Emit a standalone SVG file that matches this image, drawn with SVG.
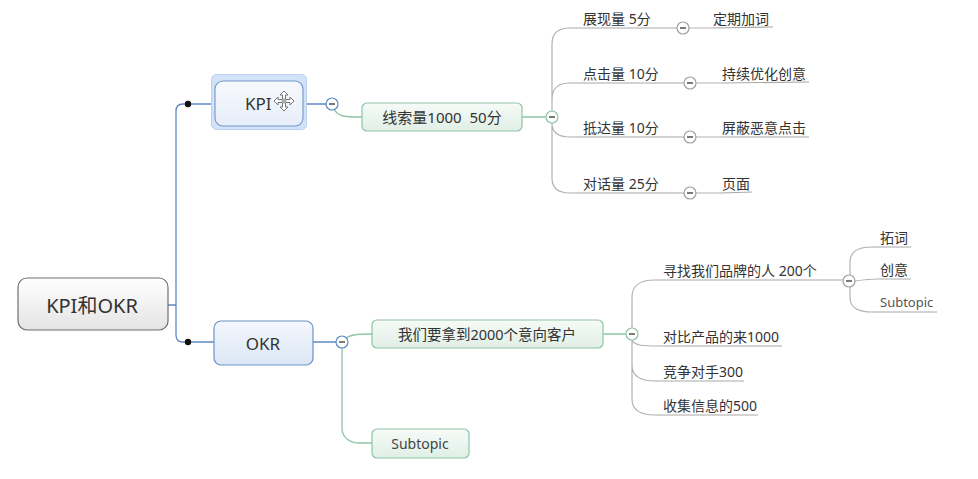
<svg xmlns="http://www.w3.org/2000/svg" width="978" height="479" viewBox="0 0 978 479">
<defs>
<linearGradient id="gRoot" x1="0" y1="0" x2="0" y2="1"><stop offset="0" stop-color="#ffffff"/><stop offset="1" stop-color="#e4e4e4"/></linearGradient>
<linearGradient id="gBlue" x1="0" y1="0" x2="0" y2="1"><stop offset="0" stop-color="#f5f8fd"/><stop offset="1" stop-color="#dbe6f5"/></linearGradient>
<linearGradient id="gBlueSel" x1="0" y1="0" x2="0" y2="1"><stop offset="0" stop-color="#f7f9fd"/><stop offset="1" stop-color="#e6eef9"/></linearGradient>
<linearGradient id="gGreen" x1="0" y1="0" x2="0" y2="1"><stop offset="0" stop-color="#f6fbf8"/><stop offset="1" stop-color="#e0efe6"/></linearGradient>
<style>
.t{font-family:"Noto Sans","Noto Sans CJK SC",sans-serif;fill:#333}
.c{text-anchor:middle;dominant-baseline:central}
.l1{fill:none;stroke:#5d88c6;stroke-width:1.3}
.l2{fill:none;stroke:#8fc3a8;stroke-width:1.3}
.l3{fill:none;stroke:#b3b3b3;stroke-width:1.2}
.ul{fill:none;stroke:#a8a8a8;stroke-width:1.2}
.cb{fill:#fff;stroke:#5d88c6;stroke-width:1.2}
.cg{fill:#fff;stroke:#8fc3a8;stroke-width:1.2}
.cy{fill:#fff;stroke:#a0a0a0;stroke-width:1.2}
.m{stroke:#333;stroke-width:1.3}
.bx{stroke:#6d91c9;stroke-width:1.2;fill:url(#gBlue)}
.gx{stroke:#8fc3a8;stroke-width:1.2;fill:url(#gGreen)}
</style>
</defs>
<rect width="978" height="479" fill="#ffffff"/>

<g id="connectors">
<path class="l1" d="M168,305 L176,305 M188,104 L183,104 Q176,104 176,111 L176,335 Q176,342 183,342 L188,342"/>
<path class="l1" d="M188,104 L212,104 M188,342 L214,342 M306,104 L326,104 M313,342 L336,342"/>
<path class="l2" d="M334,109 C338,117 345,117 362,117 M522,117 L546,117"/>
<path class="l2" d="M346,338 C352,334 360,334 372,334 M342,348 L342,428 C342,438 350,443 360,443 L372,443 M603,334 L626,334"/>
<path class="l3" d="M552,111 L552,44 C552,33 558,28 570,28 M552,111 L552,99 C552,88 558,83 570,83 M552,123 C552,132 558,137 570,137 M552,123 L552,178 C552,188 558,193 570,193"/>
<path class="l3" d="M689,28 L712,28 M696,83 L721,83 M696,137 L721,137 M696,193 L721,193"/>
<path class="l3" d="M632,328 L632,297 C632,286 640,280 655,280 M632,340 C634,346 645,346 658,346 M632,340 L632,365 C632,376 640,381 655,381 M632,340 L632,399 C632,410 640,415 655,415"/>
<path class="l3" d="M850,275 L850,262 C850,252 858,247 872,247 M855,281 C862,280 870,279 878,279 M850,287 L850,298 C850,307 858,312 872,312"/>
<circle cx="188" cy="104" r="3.2" fill="#111"/>
<circle cx="188" cy="342" r="3.2" fill="#111"/>
</g>

<g id="root">
<rect x="18" y="278" width="150" height="52" rx="9" fill="url(#gRoot)" stroke="#6f6f6f" stroke-width="1.2"/>
<text class="t c" x="92" y="305" font-size="20">KPI和OKR</text>
</g>

<g id="kpi">
<rect x="211.5" y="74.5" width="95" height="55" rx="5" fill="#d2e2f7" stroke="#b9d0f0" stroke-width="1"/>
<rect x="215" y="81" width="88" height="45" rx="8" fill="url(#gBlueSel)" stroke="#7396c9" stroke-width="1.1"/>
<text class="t" x="245" y="110" font-size="17">KPI</text>
<g transform="translate(284,101)" fill="#fff" stroke="#777" stroke-width="1">
<path d="M0,-10 L4,-6 L1.5,-6 L1.5,-1.5 L6,-1.5 L6,-4 L10,0 L6,4 L6,1.5 L1.5,1.5 L1.5,6 L4,6 L0,10 L-4,6 L-1.5,6 L-1.5,1.5 L-6,1.5 L-6,4 L-10,0 L-6,-4 L-6,-1.5 L-1.5,-1.5 L-1.5,-6 L-4,-6 Z"/>
<circle r="2.5" fill="#aaa" stroke="none"/>
</g>
<circle cx="332" cy="104" r="6" class="cb"/><line x1="329" y1="104" x2="335" y2="104" class="m"/>
</g>

<g id="okr">
<rect x="214" y="321" width="99" height="44" rx="7" class="bx"/>
<text class="t c" x="263" y="343" font-size="17">OKR</text>
<circle cx="342" cy="342" r="6" class="cb"/><line x1="339" y1="342" x2="345" y2="342" class="m"/>
</g>

<g id="leads">
<rect x="362" y="103" width="160" height="28" rx="5" class="gx"/>
<text class="t c" x="442" y="117" font-size="15" xml:space="preserve">线索量1000  50分</text>
<circle cx="552" cy="117" r="6" class="cg"/><line x1="549" y1="117" x2="555" y2="117" class="m"/>
</g>

<g id="customers">
<rect x="372" y="320" width="231" height="28" rx="5" class="gx"/>
<text class="t c" x="487" y="334" font-size="14.5">我们要拿到2000个意向客户</text>
<circle cx="632" cy="334" r="6" class="cg"/><line x1="629" y1="334" x2="635" y2="334" class="m"/>
</g>

<g id="subtopic-okr">
<rect x="372" y="429" width="97" height="29" rx="5" class="gx"/>
<text class="t c" x="420" y="443" font-size="14" style="fill:#444">Subtopic</text>
</g>

<g id="impressions">
<path class="ul" d="M570,28 L677,28"/>
<text class="t" x="583" y="24" font-size="14">展现量 5分</text>
<circle cx="683" cy="28" r="6" class="cy"/><line x1="680" y1="28" x2="686" y2="28" class="m"/>
</g>
<g id="clicks">
<path class="ul" d="M570,83 L684,83"/>
<text class="t" x="583" y="79" font-size="14">点击量 10分</text>
<circle cx="690" cy="83" r="6" class="cy"/><line x1="687" y1="83" x2="693" y2="83" class="m"/>
</g>
<g id="arrivals">
<path class="ul" d="M570,137 L684,137"/>
<text class="t" x="583" y="133" font-size="14">抵达量 10分</text>
<circle cx="690" cy="137" r="6" class="cy"/><line x1="687" y1="137" x2="693" y2="137" class="m"/>
</g>
<g id="dialogs">
<path class="ul" d="M570,193 L684,193"/>
<text class="t" x="583" y="189" font-size="14">对话量 25分</text>
<circle cx="690" cy="193" r="6" class="cy"/><line x1="687" y1="193" x2="693" y2="193" class="m"/>
</g>

<g id="add-words"><path class="ul" d="M712,28 L773,27"/><text class="t" x="713" y="24" font-size="14">定期加词</text></g>
<g id="optimize"><path class="ul" d="M721,83 L809,82"/><text class="t" x="722" y="79" font-size="14">持续优化创意</text></g>
<g id="block"><path class="ul" d="M721,137 L809,137"/><text class="t" x="722" y="133" font-size="14">屏蔽恶意点击</text></g>
<g id="page"><path class="ul" d="M721,193 L752,192"/><text class="t" x="722" y="189" font-size="14">页面</text></g>

<g id="find-brand">
<path class="ul" d="M655,280 L843,280"/>
<text class="t" x="663" y="276" font-size="14">寻找我们品牌的人 200个</text>
<circle cx="849" cy="281" r="6" class="cy"/><line x1="846" y1="281" x2="852" y2="281" class="m"/>
</g>
<g id="compare"><path class="ul" d="M658,346 L782,346"/><text class="t" x="663" y="342" font-size="14">对比产品的来1000</text></g>
<g id="competitor"><path class="ul" d="M655,381 L744,381"/><text class="t" x="663" y="377" font-size="14">竞争对手300</text></g>
<g id="collect"><path class="ul" d="M655,415 L758,415"/><text class="t" x="663" y="411" font-size="14">收集信息的500</text></g>

<g id="expand-words"><path class="ul" d="M872,247 L911,247"/><text class="t" x="880" y="243" font-size="14">拓词</text></g>
<g id="creative"><path class="ul" d="M878,279 L911,279"/><text class="t" x="880" y="275" font-size="14">创意</text></g>
<g id="subtopic-brand"><path class="ul" d="M872,312 L937,312"/><text class="t" x="880" y="307" font-size="13" style="fill:#555">Subtopic</text></g>
</svg>
